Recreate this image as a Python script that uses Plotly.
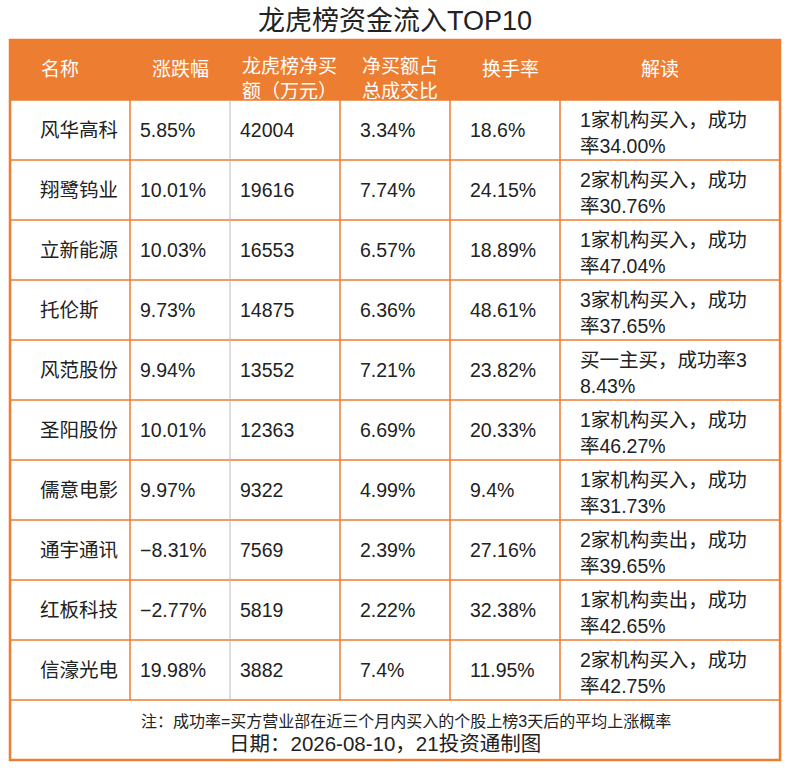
import plotly.graph_objects as go

# table data
headers = ["名称", "涨跌幅", "龙虎榜净买<br>额（万元）", "净买额占<br>总成交比", "换手率", "解读"]
names = ["风华高科", "翔鹭钨业", "立新能源", "托伦斯", "风范股份",
         "圣阳股份", "儒意电影", "通宇通讯", "红板科技", "信濠光电"]
change = ["5.85%", "10.01%", "10.03%", "9.73%", "9.94%",
          "10.01%", "9.97%", "−8.31%", "−2.77%", "19.98%"]
net_buy = ["42004", "19616", "16553", "14875", "13552",
           "12363", "9322", "7569", "5819", "3882"]
net_ratio = ["3.34%", "7.74%", "6.57%", "6.36%", "7.21%",
             "6.69%", "4.99%", "2.39%", "2.22%", "7.4%"]
turnover = ["18.6%", "24.15%", "18.89%", "48.61%", "23.82%",
            "20.33%", "9.4%", "27.16%", "32.38%", "11.95%"]
comment = ["1家机构买入，成功<br>率34.00%", "2家机构买入，成功<br>率30.76%",
           "1家机构买入，成功<br>率47.04%", "3家机构买入，成功<br>率37.65%",
           "买一主买，成功率3<br>8.43%", "1家机构买入，成功<br>率46.27%",
           "1家机构买入，成功<br>率31.73%", "2家机构卖出，成功<br>率39.65%",
           "1家机构卖出，成功<br>率42.65%", "2家机构买入，成功<br>率42.75%"]

title = "龙虎榜资金流入TOP10"
note = "注：成功率=买方营业部在近三个月内买入的个股上榜3天后的平均上涨概率"
source = "日期：2026-08-10，21投资通制图"

ORANGE = "#ED7D31"
TEXT = "#222222"
FONT = "Liberation Sans, Noto Sans CJK SC, sans-serif"

W, H = 790, 770
# layout in pixels (axes run in page pixels)
col_edges = [10, 130, 230, 340, 450, 560, 780]
head_pad = [31, 22, 12, 22, 32, 81]
cell_pad = [30, 10, 10, 20, 20, 20]
head_top, head_h, row_h = 40, 60, 60
frame_bottom = 760

columns = [names, change, net_buy, net_ratio, turnover, comment]
n_rows = len(names)
table_bottom = head_top + head_h + row_h * n_rows

fig = go.Figure()

# header text
for j, h in enumerate(headers):
    y = head_top + (41 if "<br>" in h else 31)
    fig.add_trace(go.Scatter(
        x=[col_edges[j] + head_pad[j]], y=[y], text=[h], mode="text",
        textposition="middle right", hoverinfo="skip", cliponaxis=False,
        textfont=dict(size=19, color="white", family=FONT)))

# body text
for j, col in enumerate(columns):
    shift = 5 if j == len(columns) - 1 else 2
    row_y = [head_top + head_h + row_h * (i + 0.5) + shift for i in range(n_rows)]
    fig.add_trace(go.Scatter(
        x=[col_edges[j] + cell_pad[j]] * n_rows, y=row_y, text=col, mode="text",
        textposition="middle right", hoverinfo="skip", cliponaxis=False,
        textfont=dict(size=19.5, color=TEXT, family=FONT)))

# header fill
fig.add_shape(type="rect", x0=col_edges[0], x1=col_edges[-1], y0=head_top,
              y1=head_top + head_h, fillcolor=ORANGE, line_width=0, layer="below")
# row lines
for i in range(n_rows + 1):
    y = head_top + head_h + row_h * i
    fig.add_shape(type="line", x0=col_edges[0], x1=col_edges[-1], y0=y, y1=y,
                  line=dict(color=ORANGE, width=1.5))
# column lines
for j, x in enumerate(col_edges[1:-1], start=1):
    gray = j == 2
    fig.add_shape(type="line", x0=x, x1=x, y0=head_top + head_h, y1=table_bottom,
                  line=dict(color="#BBBBBB" if gray else ORANGE, width=1 if gray else 1.5))
# outer frame incl. footer
fig.add_shape(type="rect", x0=col_edges[0], x1=col_edges[-1], y0=head_top,
              y1=frame_bottom, line=dict(color=ORANGE, width=2.5))

fig.add_annotation(text=title, x=W / 2, y=21, showarrow=False,
                   font=dict(size=27, color=TEXT, family=FONT))
fig.add_annotation(text=note, x=406, y=721, showarrow=False,
                   font=dict(size=16, color=TEXT, family=FONT))
fig.add_annotation(text=source, x=385, y=743, showarrow=False,
                   font=dict(size=20.5, color=TEXT, family=FONT))

fig.update_xaxes(range=[0, W], visible=False, fixedrange=True)
fig.update_yaxes(range=[H, 0], visible=False, fixedrange=True)
fig.update_layout(width=W, height=H, margin=dict(l=0, r=0, t=0, b=0),
                  paper_bgcolor="white", plot_bgcolor="white", showlegend=False)

fig.write_html("out.html", config={"displayModeBar": False},
               post_script="document.body.style.margin='0';")
